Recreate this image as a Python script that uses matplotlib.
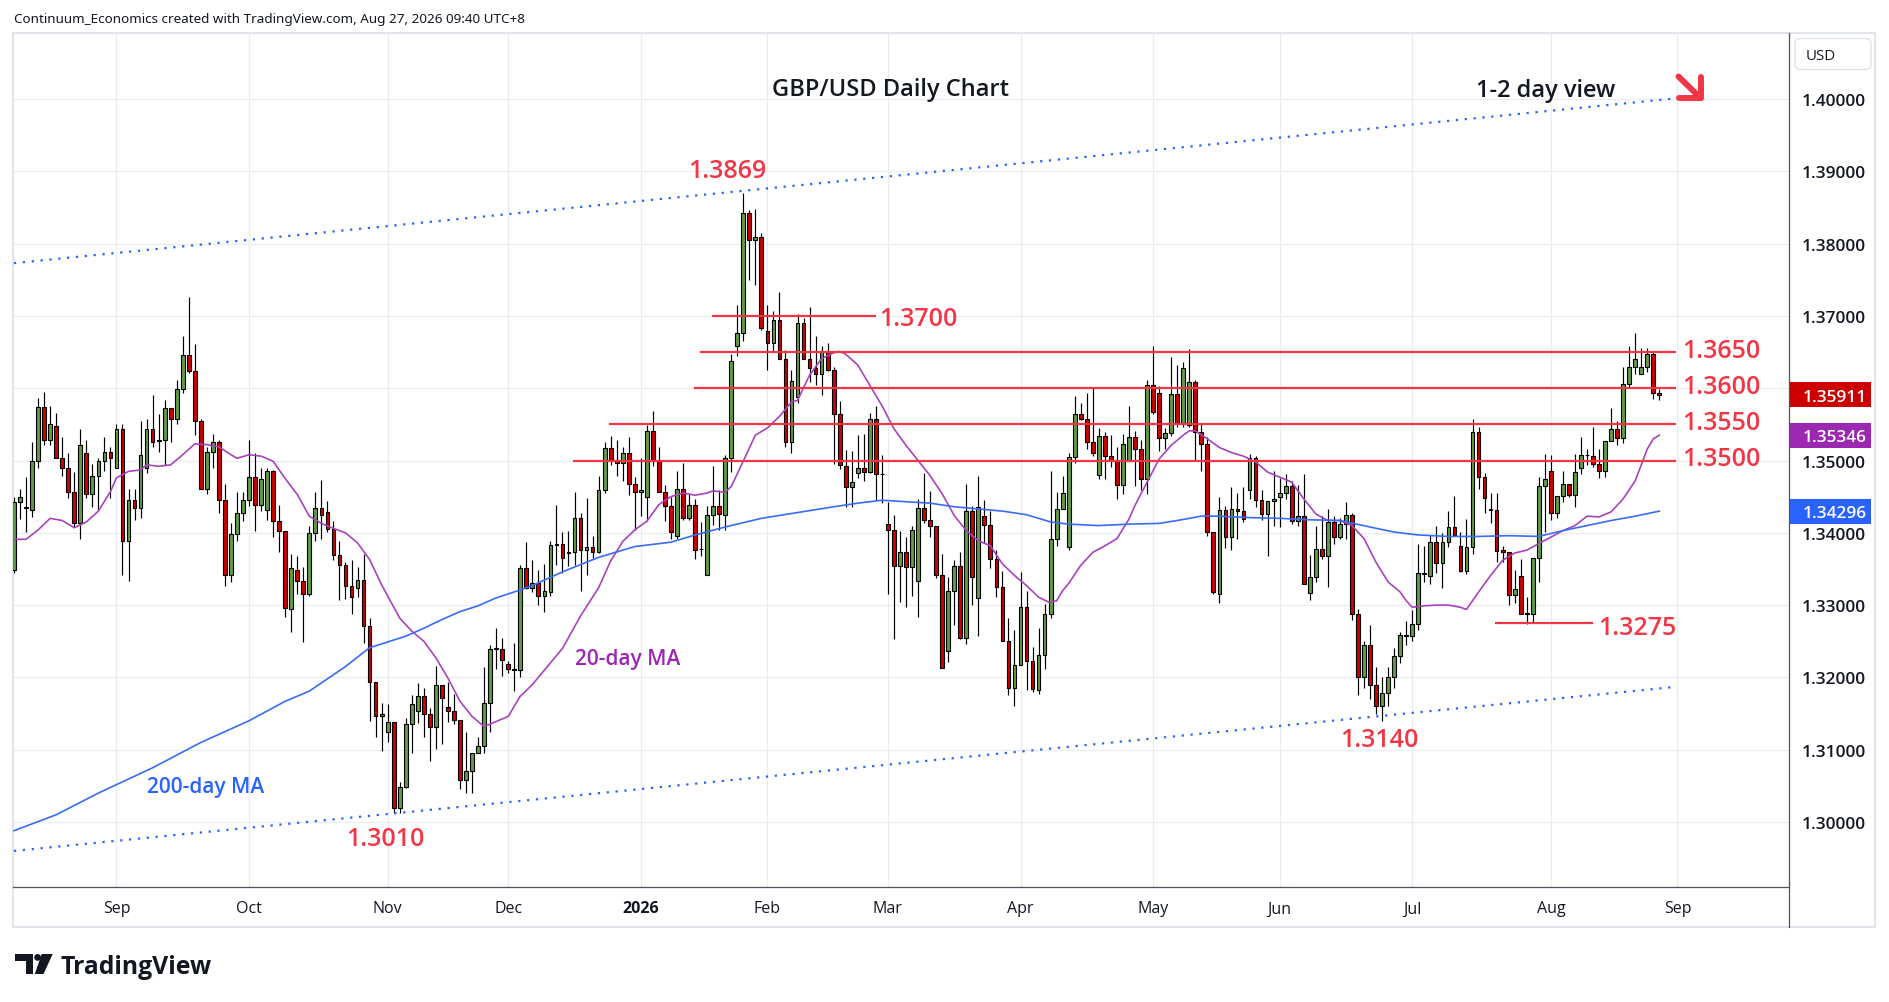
import matplotlib
matplotlib.use("Agg")
import numpy as np
import matplotlib.pyplot as plt
import matplotlib.transforms as mtransforms
from matplotlib.patches import Rectangle, FancyBboxPatch, Ellipse, Polygon
from matplotlib.lines import Line2D

plt.rcParams['font.family'] = ['DejaVu Sans']

# ---------------- data (GBP/USD daily OHLC) ----------------
opens = [1.3348,1.3442,1.3436,1.3432,1.3499,1.3574,1.3529,1.3548,1.3503,1.3490,
         1.3457,1.3413,1.3511,1.3453,1.3478,1.3499,1.3512,1.3490,1.3543,1.3388,
         1.3445,1.3434,1.3490,1.3544,1.3527,1.3528,1.3572,1.3558,1.3599,1.3646,
         1.3624,1.3555,1.3461,1.3512,1.3525,1.3446,1.3341,1.3399,1.3427,1.3445,
         1.3477,1.3438,1.3431,1.3485,1.3416,1.3403,1.3295,1.3349,1.3333,1.3316,
         1.3400,1.3434,1.3429,1.3405,1.3369,1.3355,1.3326,1.3323,1.3335,1.3271,
         1.3194,1.3147,1.3124,1.3139,1.3020,1.3049,1.3136,1.3154,1.3174,1.3149,
         1.3132,1.3190,1.3159,1.3153,1.3141,1.3058,1.3071,1.3095,1.3105,1.3165,
         1.3239,1.3239,1.3218,1.3212,1.3210,1.3352,1.3324,1.3330,1.3312,1.3318,
         1.3383,1.3384,1.3372,1.3373,1.3420,1.3376,1.3380,1.3373,1.3459,1.3517,
         1.3501,1.3497,1.3510,1.3467,1.3456,1.3450,1.3541,1.3500,1.3457,1.3437,
         1.3395,1.3461,1.3421,1.3439,1.3377,1.3342,1.3424,1.3437,1.3425,1.3504,
         1.3659,1.3677,1.3842,1.3805,1.3809,1.3679,1.3662,1.3694,1.3641,1.3525,
         1.3588,1.3690,1.3641,1.3628,1.3619,1.3651,1.3625,1.3564,1.3493,1.3463,
         1.3483,1.3490,1.3484,1.3557,1.3482,1.3412,1.3404,1.3354,1.3373,1.3353,
         1.3333,1.3434,1.3418,1.3410,1.3341,1.3236,1.3319,1.3354,1.3255,1.3430,
         1.3310,1.3423,1.3411,1.3364,1.3325,1.3250,1.3185,1.3217,1.3297,1.3223,
         1.3183,1.3231,1.3288,1.3391,1.3433,1.3380,1.3505,1.3565,1.3557,1.3525,
         1.3480,1.3534,1.3506,1.3499,1.3466,1.3500,1.3532,1.3516,1.3474,1.3604,
         1.3594,1.3531,1.3538,1.3592,1.3552,1.3549,1.3608,1.3539,1.3523,1.3401,
         1.3315,1.3431,1.3394,1.3433,1.3430,1.3459,1.3503,1.3445,1.3426,1.3444,
         1.3449,1.3455,1.3465,1.3416,1.3423,1.3317,1.3339,1.3377,1.3368,1.3415,
         1.3394,1.3412,1.3425,1.3288,1.3200,1.3245,1.3190,1.3160,1.3178,1.3200,
         1.3230,1.3257,1.3257,1.3274,1.3343,1.3340,1.3387,1.3358,1.3387,1.3408,
         1.3382,1.3347,1.3380,1.3539,1.3477,1.3433,1.3432,1.3376,1.3373,1.3314,
         1.3340,1.3289,1.3288,1.3365,1.3465,1.3485,1.3427,1.3451,1.3467,1.3452,
         1.3489,1.3507,1.3506,1.3495,1.3485,1.3527,1.3543,1.3531,1.3606,1.3629,
         1.3619,1.3630,1.3647,1.3594]
highs = [1.3449,1.3460,1.3477,1.3525,1.3586,1.3595,1.3576,1.3566,1.3532,1.3510,
         1.3484,1.3544,1.3528,1.3495,1.3503,1.3532,1.3518,1.3551,1.3551,1.3460,
         1.3460,1.3555,1.3557,1.3591,1.3565,1.3584,1.3572,1.3611,1.3672,1.3726,
         1.3661,1.3558,1.3519,1.3537,1.3528,1.3467,1.3414,1.3457,1.3457,1.3528,
         1.3511,1.3489,1.3489,1.3487,1.3439,1.3403,1.3371,1.3368,1.3353,1.3409,
         1.3456,1.3473,1.3444,1.3417,1.3388,1.3359,1.3362,1.3353,1.3371,1.3282,
         1.3194,1.3165,1.3163,1.3139,1.3055,1.3144,1.3176,1.3192,1.3186,1.3157,
         1.3216,1.3190,1.3193,1.3177,1.3141,1.3124,1.3096,1.3118,1.3214,1.3245,
         1.3269,1.3255,1.3222,1.3248,1.3355,1.3387,1.3363,1.3348,1.3357,1.3388,
         1.3439,1.3401,1.3402,1.3456,1.3427,1.3448,1.3395,1.3478,1.3525,1.3534,
         1.3528,1.3518,1.3532,1.3477,1.3503,1.3549,1.3568,1.3518,1.3466,1.3450,
         1.3486,1.3496,1.3453,1.3447,1.3415,1.3437,1.3493,1.3459,1.3508,1.3647,
         1.3715,1.3870,1.3846,1.3848,1.3814,1.3715,1.3707,1.3733,1.3653,1.3625,
         1.3702,1.3697,1.3712,1.3672,1.3659,1.3663,1.3629,1.3582,1.3515,1.3513,
         1.3535,1.3536,1.3566,1.3575,1.3508,1.3443,1.3425,1.3403,1.3394,1.3409,
         1.3447,1.3483,1.3458,1.3410,1.3370,1.3339,1.3363,1.3373,1.3467,1.3437,
         1.3478,1.3446,1.3430,1.3376,1.3347,1.3282,1.3265,1.3346,1.3320,1.3242,
         1.3268,1.3301,1.3485,1.3456,1.3478,1.3510,1.3589,1.3580,1.3594,1.3600,
         1.3545,1.3539,1.3535,1.3518,1.3536,1.3576,1.3541,1.3528,1.3612,1.3658,
         1.3603,1.3545,1.3643,1.3632,1.3636,1.3654,1.3611,1.3552,1.3532,1.3401,
         1.3449,1.3437,1.3463,1.3455,1.3463,1.3509,1.3506,1.3459,1.3444,1.3485,
         1.3476,1.3481,1.3471,1.3466,1.3482,1.3369,1.3410,1.3423,1.3433,1.3423,
         1.3420,1.3442,1.3428,1.3295,1.3250,1.3273,1.3215,1.3200,1.3215,1.3240,
         1.3263,1.3278,1.3293,1.3384,1.3382,1.3397,1.3410,1.3400,1.3430,1.3451,
         1.3401,1.3419,1.3558,1.3546,1.3483,1.3455,1.3455,1.3382,1.3373,1.3349,
         1.3364,1.3311,1.3365,1.3477,1.3509,1.3507,1.3451,1.3485,1.3467,1.3509,
         1.3532,1.3516,1.3546,1.3516,1.3527,1.3572,1.3554,1.3630,1.3659,1.3676,
         1.3655,1.3655,1.3650,1.3599]
lows = [1.3345,1.3419,1.3401,1.3422,1.3489,1.3522,1.3522,1.3503,1.3479,1.3448,
        1.3408,1.3391,1.3448,1.3436,1.3431,1.3485,1.3448,1.3490,1.3342,1.3334,
        1.3418,1.3420,1.3483,1.3519,1.3512,1.3494,1.3525,1.3551,1.3593,1.3621,
        1.3535,1.3461,1.3454,1.3489,1.3428,1.3326,1.3332,1.3388,1.3416,1.3437,
        1.3403,1.3430,1.3418,1.3394,1.3373,1.3283,1.3263,1.3316,1.3249,1.3312,
        1.3389,1.3392,1.3401,1.3363,1.3307,1.3309,1.3288,1.3311,1.3248,1.3140,
        1.3117,1.3098,1.3110,1.3012,1.3012,1.3047,1.3096,1.3137,1.3118,1.3085,
        1.3101,1.3108,1.3138,1.3135,1.3045,1.3040,1.3040,1.3095,1.3096,1.3125,
        1.3211,1.3202,1.3206,1.3181,1.3200,1.3322,1.3318,1.3300,1.3290,1.3312,
        1.3356,1.3344,1.3354,1.3356,1.3320,1.3342,1.3365,1.3372,1.3455,1.3494,
        1.3479,1.3471,1.3452,1.3404,1.3423,1.3416,1.3493,1.3456,1.3417,1.3392,
        1.3392,1.3418,1.3418,1.3364,1.3368,1.3341,1.3411,1.3404,1.3404,1.3484,
        1.3644,1.3665,1.3750,1.3743,1.3680,1.3625,1.3651,1.3640,1.3519,1.3510,
        1.3580,1.3640,1.3609,1.3604,1.3591,1.3624,1.3495,1.3488,1.3435,1.3435,
        1.3476,1.3471,1.3483,1.3446,1.3441,1.3316,1.3253,1.3304,1.3298,1.3312,
        1.3283,1.3413,1.3394,1.3338,1.3213,1.3221,1.3273,1.3253,1.3246,1.3300,
        1.3257,1.3386,1.3352,1.3311,1.3250,1.3175,1.3160,1.3217,1.3182,1.3180,
        1.3177,1.3212,1.3282,1.3382,1.3433,1.3376,1.3496,1.3556,1.3516,1.3506,
        1.3475,1.3475,1.3491,1.3447,1.3454,1.3500,1.3465,1.3459,1.3454,1.3564,
        1.3513,1.3516,1.3534,1.3547,1.3547,1.3547,1.3500,1.3485,1.3395,1.3315,
        1.3303,1.3379,1.3376,1.3391,1.3415,1.3447,1.3435,1.3418,1.3368,1.3409,
        1.3408,1.3447,1.3412,1.3409,1.3329,1.3307,1.3332,1.3364,1.3325,1.3384,
        1.3392,1.3392,1.3280,1.3175,1.3185,1.3170,1.3150,1.3140,1.3160,1.3185,
        1.3220,1.3245,1.3250,1.3265,1.3332,1.3329,1.3344,1.3323,1.3381,1.3395,
        1.3346,1.3343,1.3371,1.3460,1.3427,1.3413,1.3359,1.3360,1.3300,1.3303,
        1.3287,1.3274,1.3277,1.3332,1.3401,1.3418,1.3421,1.3442,1.3449,1.3435,
        1.3481,1.3494,1.3491,1.3476,1.3477,1.3527,1.3521,1.3524,1.3601,1.3619,
        1.3619,1.3622,1.3585,1.3583]
closes = [1.3442,1.3449,1.3434,1.3499,1.3574,1.3529,1.3551,1.3503,1.3490,1.3457,
          1.3413,1.3521,1.3453,1.3478,1.3499,1.3512,1.3504,1.3543,1.3388,1.3445,
          1.3434,1.3507,1.3544,1.3526,1.3528,1.3572,1.3558,1.3599,1.3646,1.3624,
          1.3555,1.3461,1.3512,1.3525,1.3446,1.3341,1.3399,1.3427,1.3445,1.3477,
          1.3438,1.3474,1.3485,1.3416,1.3403,1.3296,1.3351,1.3333,1.3316,1.3400,
          1.3434,1.3424,1.3405,1.3369,1.3355,1.3326,1.3311,1.3335,1.3271,1.3194,
          1.3147,1.3149,1.3139,1.3020,1.3049,1.3136,1.3163,1.3174,1.3149,1.3132,
          1.3190,1.3172,1.3153,1.3141,1.3058,1.3071,1.3096,1.3105,1.3165,1.3239,
          1.3240,1.3224,1.3212,1.3210,1.3352,1.3324,1.3330,1.3312,1.3320,1.3383,
          1.3385,1.3365,1.3374,1.3420,1.3376,1.3380,1.3373,1.3459,1.3517,1.3501,
          1.3497,1.3510,1.3467,1.3456,1.3459,1.3541,1.3500,1.3457,1.3437,1.3401,
          1.3461,1.3421,1.3439,1.3376,1.3378,1.3424,1.3437,1.3426,1.3504,1.3638,
          1.3677,1.3842,1.3805,1.3809,1.3683,1.3662,1.3694,1.3641,1.3525,1.3610,
          1.3690,1.3641,1.3628,1.3619,1.3651,1.3625,1.3564,1.3494,1.3463,1.3470,
          1.3490,1.3484,1.3557,1.3481,1.3481,1.3404,1.3354,1.3373,1.3353,1.3404,
          1.3434,1.3418,1.3410,1.3341,1.3213,1.3319,1.3354,1.3255,1.3430,1.3339,
          1.3435,1.3411,1.3364,1.3325,1.3250,1.3185,1.3217,1.3297,1.3223,1.3184,
          1.3231,1.3288,1.3391,1.3433,1.3455,1.3505,1.3565,1.3557,1.3525,1.3510,
          1.3534,1.3506,1.3499,1.3466,1.3523,1.3532,1.3516,1.3474,1.3604,1.3567,
          1.3531,1.3538,1.3592,1.3552,1.3628,1.3608,1.3539,1.3523,1.3401,1.3318,
          1.3431,1.3394,1.3433,1.3430,1.3419,1.3503,1.3445,1.3426,1.3444,1.3447,
          1.3455,1.3465,1.3416,1.3423,1.3329,1.3339,1.3377,1.3368,1.3415,1.3394,
          1.3412,1.3425,1.3288,1.3200,1.3245,1.3190,1.3160,1.3178,1.3200,1.3230,
          1.3258,1.3258,1.3274,1.3344,1.3345,1.3387,1.3358,1.3387,1.3408,1.3397,
          1.3347,1.3380,1.3539,1.3477,1.3448,1.3432,1.3375,1.3374,1.3314,1.3322,
          1.3288,1.3288,1.3365,1.3465,1.3474,1.3427,1.3451,1.3467,1.3452,1.3484,
          1.3507,1.3508,1.3495,1.3485,1.3527,1.3543,1.3531,1.3606,1.3629,1.3641,
          1.3630,1.3647,1.3594,1.3591]

month_labels = ["Sep", "Oct", "Nov", "Dec", "2026", "Feb", "Mar", "Apr",
                "May", "Jun", "Jul", "Aug", "Sep"]
month_bar = [17, 39, 62, 82, 104, 125, 145, 167, 189, 210, 232, 255, 276]

# 20-day MA readings (bar number, 1-based) and values
ma20_bar = [1,3,5,7,9,11,13,15,17,18,20,22,23,25,27,29,31,33,35,37,38,40,42,44,46,48,50,52,
            54,56,58,60,62,65,67,69,71,73,75,77,79,81,83,85,87,92,95,98,100,102,104,106,108,
            110,112,114,116,117,119,120,122,124,126,128,130,131,133,135,137,138,139,141,143,
            145,147,149,151,153,155,157,159,161,163,165,167,169,171,172.7,174,175,176,178,
            180,182,184,186,187,189,191,193,195,196,197,199,201,203,205,207,209,211,213,215,
            217,219,221,223,225,227,229,231,232,233,235,237,239,241,242,244,246,248,250,252,
            254,256,258,260,262,264,266,268,270,272,273,274]
ma20_val = [1.3391,1.3391,1.3404,1.3420,1.3417,1.3407,1.3415,1.3430,1.3457,1.3476,1.3485,
            1.3487,1.3494,1.3492,1.3494,1.3508,1.3523,1.3522,1.3519,1.3508,1.3503,1.3508,
            1.3506,1.3499,1.3475,1.3453,1.3423,1.3413,1.3406,1.3400,1.3386,1.3363,1.3328,
            1.3282,1.3264,1.3250,1.3227,1.3199,1.3167,1.3146,1.3132,1.3139,1.3146,1.3174,
            1.3190,1.3240,1.3285,1.3324,1.3361,1.3388,1.3404,1.3416,1.3439,1.3450,1.3455,
            1.3452,1.3455,1.3458,1.3456,1.3464,1.3499,1.3535,1.3545,1.3561,1.3581,1.3583,
            1.3618,1.3641,1.3649,1.3651,1.3647,1.3632,1.3604,1.3576,1.3544,1.3521,1.3500,
            1.3479,1.3454,1.3424,1.3403,1.3389,1.3382,1.3357,1.3341,1.3327,1.3311,1.3304,
            1.3306,1.3320,1.3330,1.3355,1.3373,1.3382,1.3392,1.3419,1.3438,1.3470,1.3502,
            1.3521,1.3535,1.3541,1.3541,1.3530,1.3518,1.3511,1.3506,1.3498,1.3484,1.3477,
            1.3470,1.3447,1.3426,1.3417,1.3417,1.3410,1.3392,1.3359,1.3332,1.3318,1.3306,
            1.3297,1.3299,1.3300,1.3300,1.3297,1.3294,1.3318,1.3341,1.3362,1.3372,1.3376,
            1.3385,1.3394,1.3403,1.3410,1.3423,1.3422,1.3429,1.3447,1.3472,1.3516,1.3530,
            1.3535]

# 200-day MA readings
ma200_bar = [1,8,15,24,32,40,46,50,56,60,63,66,69,72,75,78,81,85,87,92,98,104,110,114,119,
             125,131,137,141,145,149,153,157,161,165,169,173,176,181,186,191,194,198,201,
             206,211,216,221,226,230,234,239,244,249,254,258,262,266,270,274]
ma200_val = [1.2988,1.3010,1.3040,1.3075,1.3110,1.3140,1.3167,1.3181,1.3215,1.3241,1.3249,
             1.3257,1.3268,1.3280,1.3291,1.3299,1.3310,1.3321,1.3327,1.3346,1.3366,1.3381,
             1.3387,1.3397,1.3408,1.3420,1.3428,1.3436,1.3441,1.3445,1.3443,1.3441,1.3436,
             1.3433,1.3430,1.3425,1.3415,1.3412,1.3410,1.3412,1.3413,1.3417,1.3423,1.3423,
             1.3421,1.3420,1.3418,1.3417,1.3408,1.3401,1.3397,1.3395,1.3395,1.3396,1.3395,
             1.3403,1.3410,1.3417,1.3423,1.3430]

# channel trend lines (bar index, price)
channel_bar = [0, 275.8]
channel_upper = [1.3773, 1.4001]
channel_lower = [1.2960, 1.3187]

levels = [1.3700, 1.3650, 1.3600, 1.3550, 1.3500, 1.3275]
level_labels = ["1.3700", "1.3650", "1.3600", "1.3550", "1.3500", "1.3275"]
swing_labels = ["1.3869", "1.3010", "1.3140"]
price_ticks = [1.30, 1.31, 1.32, 1.33, 1.34, 1.35, 1.36, 1.37, 1.38, 1.39, 1.40]
last_close = 1.35911
ma20_last = 1.35346
ma200_last = 1.34296

# ---------------- layout ----------------
W, H = 1889, 1003
fig = plt.figure(figsize=(W / 100, H / 100), dpi=100)
fig.patch.set_facecolor('white')

def fx(x):
    return x / W

def fy(y):
    return 1 - y / H

SANS = ['Open Sans', 'Noto Sans', 'DejaVu Sans']

AX_L, AX_R, AX_T, AX_B = 12.7, 1789.3, 34.0, 888.3
ax = fig.add_axes([fx(AX_L), fy(AX_B), (AX_R - AX_L) / W, (AX_B - AX_T) / H])
XMIN, XMAX = -0.216, 294.56
YMIN, YMAX = 1.290968, 1.409129
ax.set_xlim(XMIN, XMAX)
ax.set_ylim(YMIN, YMAX)
ax.set_xticks([])
ax.set_yticks([])
for s in ['left', 'top']:
    ax.spines[s].set_color('#e0e3eb')
ax.spines['right'].set_visible(False)
ax.spines['bottom'].set_color('#50535e')
ax.spines['bottom'].set_linewidth(0.9)

PPX = (YMAX - YMIN) / (AX_B - AX_T)   # price per pixel
blend = mtransforms.blended_transform_factory(ax.transAxes, ax.transData)
blend_x = mtransforms.blended_transform_factory(ax.transData, ax.transAxes)

def axx(real_x):
    return (real_x - AX_L) / (AX_R - AX_L)

GRID = '#e8edf2'
# grid
ax.hlines(price_ticks, XMIN, XMAX, color=GRID, lw=0.9, zorder=0)
ax.vlines(month_bar, YMIN, YMAX, color=GRID, lw=0.9, zorder=0)

# candles
o = np.array(opens); h = np.array(highs); l = np.array(lows); c = np.array(closes)
x = np.arange(len(c))
up = c >= o
lo_b = np.minimum(o, c)
hb = np.maximum(np.abs(c - o), 0.00003)
GREEN, RED = '#609b45', '#cc0000'
ax.vlines(x, l, h, color='black', lw=0.85, zorder=2)
ax.bar(x[up], hb[up], bottom=lo_b[up], width=0.62, color=GREEN, edgecolor='black',
       linewidth=0.8, zorder=3)
ax.bar(x[~up], hb[~up], bottom=lo_b[~up], width=0.62, color=RED, edgecolor='black',
       linewidth=0.8, zorder=3)

# moving averages
ax.plot(np.array(ma20_bar) - 1, ma20_val, color='#a844bb', lw=1.2, zorder=4)
ax.plot(np.array(ma200_bar) - 1, ma200_val, color='#3a6cf4', lw=1.2, zorder=4)

# channel
for ys in (channel_upper, channel_lower):
    ax.plot(channel_bar, ys, color='#2962ff', lw=1.6, ls=(0, (1, 3)), zorder=4)

# levels
LVL = '#f23645'
LBL_FONT = dict(family=SANS, fontsize=18, fontweight='semibold')
level_span = [(115.8, 143.0), (113.8, 275.8), (112.8, 275.8), (98.8, 275.8),
              (92.7, 275.8), (245.7, 262.0)]
level_pos = [(143.5, 1.36878), (276.7, 1.36427), (276.7, 1.35929), (276.7, 1.35432),
             (276.7, 1.34938), (262.8, 1.32597)]
for v, (a, b), (tx, ty), lab in zip(levels, level_span, level_pos, level_labels):
    ax.hlines(v, a, b, color=LVL, lw=1.6, zorder=5)
    ax.text(tx, ty, lab, color=LVL, ha='left', va='baseline', zorder=6, clip_on=False,
            **LBL_FONT)

swing_pos = [(118.4, 1.38917), (61.6, 1.29686), (226.5, 1.31045)]
for (tx, ty), lab in zip(swing_pos, swing_labels):
    ax.text(tx, ty, lab, color=LVL, ha='center', va='baseline', zorder=6, **LBL_FONT)

# MA labels
ax.text(101.8, 1.32185, "20-day MA", color='#9c27b0', fontsize=15, family=SANS,
        fontweight='semibold', ha='center', va='baseline', zorder=6)
ax.text(31.8, 1.30420, "200-day MA", color='#2962ff', fontsize=15, family=SANS,
        fontweight='semibold', ha='center', va='baseline', zorder=6)

# titles
ax.text(145.35, 1.40050, "GBP/USD Daily Chart", color='#131722', fontsize=17,
        family=SANS, fontweight='semibold', ha='center', va='baseline', zorder=6)
ax.text(254.2, 1.40045, "1-2 day view", color='#131722', fontsize=17,
        family=SANS, fontweight='semibold', ha='center', va='baseline', zorder=6)

# arrow (figure pixel coords)
ARW = '#f23645'
for xs, ys in [((1678.5, 1700.5), (77.5, 99.0)), ((1700.5, 1700.5), (77.5, 99.0)),
               ((1678.5, 1700.5), (99.0, 99.0))]:
    fig.add_artist(Line2D([fx(v) for v in xs], [fy(v) for v in ys], color=ARW, lw=4.3,
                          solid_capstyle='round', solid_joinstyle='round'))

# time axis labels
for b, lab in zip(month_bar, month_labels):
    ax.text(b, -(907.5 - AX_B) / (AX_B - AX_T), lab, transform=blend_x, ha='center',
            va='center_baseline', fontsize=11.5, family=SANS, color='#131722', clip_on=False,
            fontweight='bold' if lab == '2026' else 'normal')

# price axis labels
AXF = dict(family=SANS, fontsize=12.4, fontweight='semibold')
for p in price_ticks:
    ax.text(axx(1801.7), p, f"{p:.5f}", transform=blend, ha='left', va='center_baseline',
            color='#131722', clip_on=False, zorder=7, **AXF)

# price tags
for val, col in [(last_close, '#cc0000'), (ma20_last, '#9c27b0'), (ma200_last, '#2962ff')]:
    ax.add_patch(Rectangle((axx(1790.3), val - 12.5 * PPX), axx(1871) - axx(1790.3),
                           25 * PPX, transform=blend, facecolor=col, edgecolor='none',
                           clip_on=False, zorder=9))
    ax.text(axx(1802.7), val, f"{val:.5f}", transform=blend, ha='left',
            va='center_baseline', color='white', clip_on=False, zorder=10, **AXF)

# frame pieces
fig.add_artist(Rectangle((fx(12.7), fy(927.7)), (1875 - 12.7) / W, (927.7 - 34) / H,
                         transform=fig.transFigure, fill=False, edgecolor='#e0e3eb',
                         lw=1.3, zorder=0))
fig.add_artist(Line2D([fx(AX_R), fx(AX_R)], [fy(34), fy(927.7)], color='#50535e', lw=0.9))
fig.add_artist(FancyBboxPatch((fx(1795), fy(70.5)), (1871 - 1795) / W, (70.5 - 39.5) / H,
                              boxstyle="round,pad=0,rounding_size=0.004",
                              transform=fig.transFigure, facecolor='white',
                              edgecolor='#e0e3eb', lw=1.0))
fig.text(fx(1805.5), fy(55), "USD", fontsize=10.8, family=SANS, color='#131722',
         va='center_baseline', ha='left')

# attribution
fig.text(fx(14), fy(23.5), "Continuum_Economics created with TradingView.com, Aug 27, 2026 09:40 UTC+8",
         fontsize=9.7, family=['Noto Sans', 'DejaVu Sans'], color='#131722', va='baseline',
         ha='left')

# TradingView logo
LOGO = '#131722'
fig.add_artist(Rectangle((fx(15), fy(961.7)), 18.3 / W, 6.7 / H, transform=fig.transFigure,
                         facecolor=LOGO, edgecolor='none'))
fig.add_artist(Rectangle((fx(26), fy(975)), 7.3 / W, 20 / H, transform=fig.transFigure,
                         facecolor=LOGO, edgecolor='none'))
fig.add_artist(Ellipse((fx(37.6), fy(958.4)), 6.8 / W, 6.8 / H, transform=fig.transFigure,
                       facecolor=LOGO, edgecolor='none'))
fig.add_artist(Polygon([(fx(41.7), fy(955)), (fx(52.7), fy(955)), (fx(43.5), fy(975)),
                        (fx(34.8), fy(975))], closed=True, transform=fig.transFigure,
                       facecolor=LOGO, edgecolor='none'))
fig.text(fx(61), fy(974.5), "TradingView", fontsize=17.8, family=SANS, fontweight='bold',
         color=LOGO, va='baseline', ha='left')

fig.savefig("out.png", dpi=100, facecolor='white')
